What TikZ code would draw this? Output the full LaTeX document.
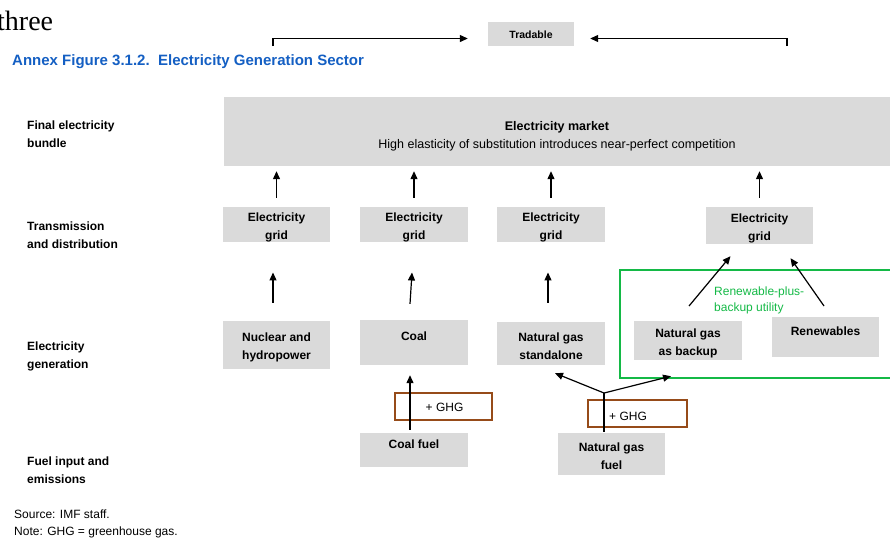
\documentclass[tikz,border=0pt]{standalone}
\usepackage{fontspec}
\setmainfont{Liberation Sans}
\newfontfamily\serifthree{Liberation Serif}
\usetikzlibrary{arrows.meta}
\definecolor{boxgray}{RGB}{218,218,218}
\definecolor{titleblue}{RGB}{20,95,195}
\definecolor{utilgreen}{RGB}{20,185,70}
\definecolor{ghgbrown}{RGB}{150,75,25}
\newcommand{\tp}{\rule{0pt}{14pt}}
\tikzset{
  box/.style={fill=boxgray, inner sep=0pt, align=center, font=\fontsize{12}{18}\selectfont\bfseries},
  rowlab/.style={anchor=north west, inner sep=0pt, align=left, font=\fontsize{12}{18}\selectfont\bfseries},
  arr/.style={-{Triangle[length=8pt,width=7pt]}, line width=1.2pt},
  plain/.style={line width=1.2pt},
  ghg/.style={draw=ghgbrown, line width=1.2pt, inner sep=0pt},
}
\begin{document}
\begin{tikzpicture}[x=1pt,y=-1pt]
\useasboundingbox (0,0) rectangle (890,539);
% top fragment
\node[anchor=west, inner sep=0pt, font=\serifthree\fontsize{28}{30}\selectfont] (three) at (-3,21) {three};
\node[box, minimum width=86pt, minimum height=24pt, font=\fontsize{10.5}{13}\selectfont\bfseries] (trad) at (531,34) {\rule{0pt}{10pt}Tradable};
\coordinate (tl) at (273,46);
\coordinate (tr) at (787,46);
\draw[arr] (tl) |- ([xshift=-20pt,yshift=-4.5pt]trad.west);
\draw[arr] (tr) |- ([xshift=16pt,yshift=-4.5pt]trad.east);
\node[anchor=west, inner sep=0pt, text=titleblue, font=\fontsize{15}{17}\selectfont\bfseries] (title) at (12,62) {Annex Figure 3.1.2.\ \ Electricity Generation Sector};
% row labels
\node[rowlab] (r1) at (27,121) {Final electricity\\bundle};
\node[rowlab] (r2) at (27,222) {Transmission\\and distribution};
\node[rowlab] (r3) at (27,342) {Electricity\\generation};
\node[rowlab] (r4) at (27,457) {Fuel input and\\emissions};
% market
\node[box, minimum width=666pt, minimum height=69pt, font=\fontsize{12.5}{18}\selectfont] (market) at (557,131.5) {\rule{0pt}{19pt}\textbf{Electricity market}\\High elasticity of substitution introduces near-perfect competition};
% grids
\node[box, minimum width=107pt, minimum height=35pt] (g1) at (276.5,224.5) {\rule{0pt}{15pt}Electricity\\grid};
\node[box, minimum width=108pt, minimum height=35pt] (g2) at (414,224.5) {\rule{0pt}{15pt}Electricity\\grid};
\node[box, minimum width=108pt, minimum height=35pt] (g3) at (551,224.5) {\rule{0pt}{15pt}Electricity\\grid};
\node[box, minimum width=107pt, minimum height=37pt] (g4) at (759.5,225.5) {\rule{0pt}{15pt}Electricity\\grid};
% green utility box
\node[draw=utilgreen, line width=1.2pt, minimum width=272pt, minimum height=108pt, inner sep=0pt] (util) at (756,324) {};
\node[anchor=north west, inner sep=0pt, align=left, text=utilgreen, font=\fontsize{12}{16}\selectfont] (utillab) at (714,287) {Renewable-plus-\\backup utility};
% generation
\node[box, minimum width=107pt, minimum height=48pt] (nuc) at (276.5,345) {\tp Nuclear and\\hydropower};
\node[box, minimum width=108pt, minimum height=45pt] (coal) at (414,342.5) {\tp Coal\\\mbox{}};
\node[box, minimum width=108pt, minimum height=43pt] (ngs) at (551,343.5) {\tp Natural gas\\standalone};
\node[box, minimum width=108pt, minimum height=39pt] (ngb) at (688,340.5) {\tp Natural gas\\as backup};
\node[box, minimum width=107pt, minimum height=40pt] (ren) at (825.5,337) {\tp Renewables\\\mbox{}};
% fuels
\node[box, minimum width=108pt, minimum height=34pt] (cf) at (414,450) {\tp Coal fuel\\\mbox{}};
\node[box, minimum width=107pt, minimum height=42pt] (ngf) at (611.5,454) {\tp Natural gas\\fuel};
% GHG boxes
\node[ghg, minimum width=97pt, minimum height=27pt, font=\fontsize{12}{14}\selectfont] (ghg1) at (443.5,406.5) {\hspace{2pt}\rule{0pt}{11pt}+ GHG};
\node[ghg, minimum width=99pt, minimum height=27pt] (ghg2) at (637.5,413.5) {};
\node[anchor=west, inner sep=0pt, font=\fontsize{12}{14}\selectfont] (ghg2t) at (609,416) {+ GHG};
% arrows to market
\foreach \g in {g1,g2,g3,g4}{
  \draw[arr, shorten <=9pt, shorten >=5pt] (\g.north) -- (\g.north |- market.south);
}
% generation to grid
\draw[arr] ([xshift=-3.5pt,yshift=18pt]nuc.north) -- ([xshift=-3.5pt,yshift=-30pt]g1.south);
\draw[arr] ([xshift=-4pt,yshift=16pt]coal.north) -- ([xshift=-2pt,yshift=-30pt]g2.south);
\draw[arr] ([xshift=-3pt,yshift=19pt]ngs.north) -- ([xshift=-3pt,yshift=-30pt]g3.south);
\coordinate (bt) at (689,306);
\coordinate (rt) at (824,306);
\draw[arr] (bt) -- ([xshift=-29pt,yshift=-12pt]g4.south);
\draw[arr] (rt) -- ([xshift=31pt,yshift=-14pt]g4.south);
% fuels
\draw[arr] ([xshift=-4pt,yshift=3pt]cf.north) -- ([xshift=-4pt,yshift=-10pt]coal.south);
\coordinate (split) at (604,393);
\draw[plain] ([xshift=-7.5pt,yshift=1pt]ngf.north) -- (split);
\draw[arr] (split) -- ([xshift=4pt,yshift=-8pt]ngs.south);
\draw[arr] (split) -- ([xshift=-17pt,yshift=-16pt]ngb.south);
% notes
\node[anchor=north west, inner sep=0pt, align=left, font=\fontsize{12}{17}\selectfont] (src) at (14,510) {Source: IMF staff.\\Note: GHG = greenhouse gas.};
\end{tikzpicture}
\end{document}
